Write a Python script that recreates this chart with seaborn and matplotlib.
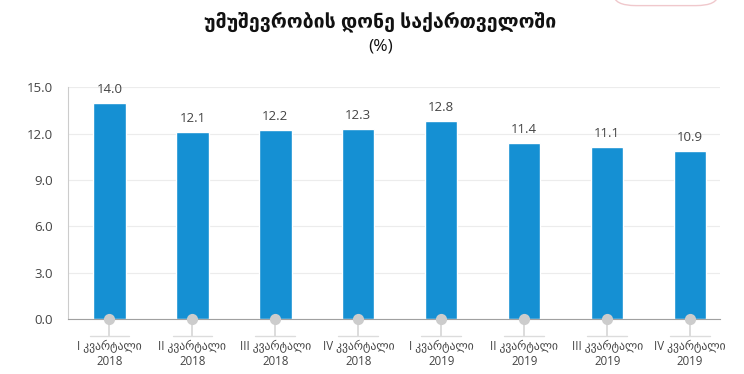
import pandas as pd
import seaborn as sns
import matplotlib.pyplot as plt
from matplotlib.patches import FancyBboxPatch

# Data
quarters = ["I კვარტალი\n2018", "II კვარტალი\n2018", "III კვარტალი\n2018", "IV კვარტალი\n2018",
            "I კვარტალი\n2019", "II კვარტალი\n2019", "III კვარტალი\n2019", "IV კვარტალი\n2019"]
rates = [14.0, 12.1, 12.2, 12.3, 12.8, 11.4, 11.1, 10.9]
yticks = [0.0, 3.0, 6.0, 9.0, 12.0, 15.0]

df = pd.DataFrame({"quarter": quarters, "rate": rates})

sns.set_style("white")
plt.rcParams['font.family'] = ['Open Sans', 'DejaVu Sans']

fig = plt.figure(figsize=(7.44, 3.74), dpi=100)
ax = fig.add_axes([0.0914, 0.147, 0.8763, 0.620])

sns.barplot(data=df, x="quarter", y="rate", color="#1590d3", width=0.39, saturation=1, ax=ax)

ax.set_ylim(0, 15)
ax.set_xlim(-0.5, 7.36)
ax.set_yticks(yticks)
ax.set_yticklabels([f"{v:.1f}" for v in yticks], fontsize=9.5, color="#444444")
ax.set_xlabel("")
ax.set_ylabel("")
ax.grid(axis="y", color="#ececec", linewidth=0.8)
ax.set_axisbelow(True)
for s in ["top", "right"]:
    ax.spines[s].set_visible(False)
ax.spines["left"].set_color("#cccccc")
ax.spines["bottom"].set_color("#a0a0a0")
ax.tick_params(axis="y", length=5, color="#cccccc", pad=6)
ax.tick_params(axis="x", length=0, pad=15, labelsize=8.3, labelcolor="#444444")

# value labels
for i, v in enumerate(rates):
    ax.annotate(f"{v:.1f}", (i, v), xytext=(0, 5), textcoords="offset points",
                ha="center", va="bottom", fontsize=9.5, color="#444444")

# tick decorations under the axis
tr = ax.get_xaxis_transform()
for i in range(len(quarters)):
    ax.plot([i, i], [0, -0.073], transform=tr, color="#d6d6d6", lw=1.2, clip_on=False, zorder=3)
    ax.plot([i - 0.24, i + 0.24], [-0.073, -0.073], transform=tr, color="#dcdcdc", lw=1.0, clip_on=False, zorder=3)
ax.scatter(range(len(quarters)), [0] * len(quarters), transform=tr, s=65, color="#cccccc",
           clip_on=False, zorder=4, linewidths=0)

fig.text(0.511, 0.94, "უმუშევრობის დონე საქართველოში", ha="center", va="center",
         fontsize=14, fontweight="bold", color="#111111")
fig.text(0.511, 0.877, "(%)", ha="center", va="center", fontsize=12.5, color="#111111")

# cropped box at the top right
box = FancyBboxPatch((0.825, 0.985), 0.14, 0.1, boxstyle="round,pad=0,rounding_size=0.03",
                     transform=fig.transFigure, facecolor="white", edgecolor="#f0c8cc", lw=1)
fig.patches.append(box)

fig.savefig("out.png", dpi=100)
